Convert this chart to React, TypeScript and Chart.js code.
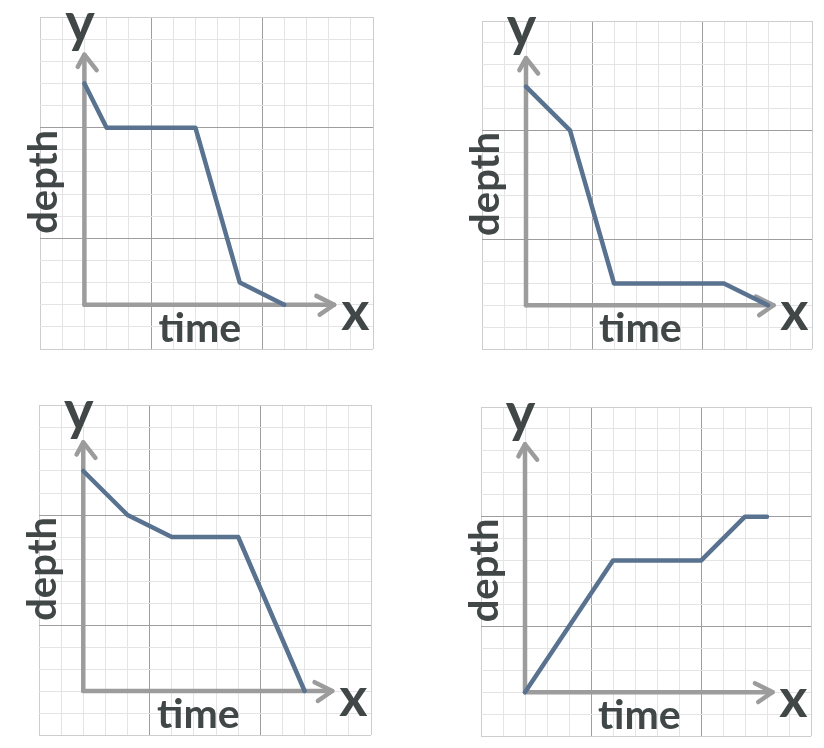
import React, { useEffect, useRef } from "react";
import { Chart, registerables } from "chart.js";

Chart.register(...registerables);

// ---- data (grid-cell units: time along x, depth along y) ----
const panelATime = [0, 1, 5, 7, 9];
const panelADepth = [10, 8, 8, 1, 0];

const panelBTime = [0, 2, 4, 9, 11];
const panelBDepth = [10, 8, 1, 1, 0];

const panelCTime = [0, 2, 4, 7, 10];
const panelCDepth = [10, 8, 7, 7, 0];

const panelDTime = [0, 4, 8, 10, 11];
const panelDDepth = [0, 6, 6, 8, 8];

// grid range and major lines
const gridMin = -2;
const gridMax = 13;
const majorLines = [3, 8];

// hand-drawn axis arrows (data units)
const xShaftX = [0, 11.25];
const xShaftY = [0, 0];
const xHeadX = [10.45, 11.25, 10.6];
const xHeadY = [0.4, 0, -0.45];
const yShaftX = [0, 0];
const yShaftY = [0, 11.3];
const yHeadX = [-0.3, 0, 0.55];
const yHeadY = [10.75, 11.3, 10.6];

// labels
const xLetter = "x";
const yLetter = "y";
const xTitle = "time";
const yTitle = "depth";

const toPoints = (xs: number[], ys: number[]) => xs.map((x, i) => ({ x, y: ys[i] }));

type Frame = { left: number; top: number; pad: { left: number; top: number; right: number; bottom: number } };

const W = 412;
const H = 374;

const frames: Frame[] = [
  { left: 0, top: 0, pad: { left: 40, top: 17, right: 39, bottom: 25 } },
  { left: 412, top: 0, pad: { left: 70, top: 21, right: 12, bottom: 25 } },
  { left: 0, top: 374, pad: { left: 39, top: 31, right: 41, bottom: 13 } },
  { left: 412, top: 374, pad: { left: 69, top: 33, right: 13, bottom: 12 } },
];

const series = [
  { t: panelATime, d: panelADepth },
  { t: panelBTime, d: panelBDepth },
  { t: panelCTime, d: panelCDepth },
  { t: panelDTime, d: panelDDepth },
];

const LINE_BLUE = "#58728f";
const ARROW_GRAY = "#9c9c9c";
const INK = "#414747";

const labelPlugin = {
  id: "handLabels",
  afterDatasetsDraw(chart: any) {
    const { ctx, scales } = chart;
    const xs = scales.x;
    const ys = scales.y;
    ctx.save();
    ctx.fillStyle = INK;
    ctx.textBaseline = "alphabetic";
    ctx.textAlign = "center";

    ctx.font = "700 41px Lato";
    ctx.fillText(xTitle, xs.getPixelForValue(5.2), ys.getPixelForValue(-1.7));

    ctx.save();
    ctx.translate(xs.getPixelForValue(-1.22), ys.getPixelForValue(5.55));
    ctx.rotate(-Math.PI / 2);
    ctx.font = "700 40px Lato";
    ctx.fillText(yTitle, 0, 0);
    ctx.restore();

    ctx.font = "700 54px Lato";
    ctx.fillText(xLetter, xs.getPixelForValue(12.2), ys.getPixelForValue(-1.14));
    ctx.font = "700 56px Lato";
    ctx.fillText(yLetter, xs.getPixelForValue(-0.2), ys.getPixelForValue(11.85));
    ctx.restore();
  },
};

function gridColor(ctx: any) {
  const v = ctx.tick ? ctx.tick.value : 0;
  if (majorLines.includes(v)) return "#9e9e9e";
  if (v === gridMin || v === gridMax) return "#cdcdcd";
  return "#e4e4e4";
}

function Panel({ idx }: { idx: number }) {
  const ref = useRef<HTMLCanvasElement | null>(null);
  useEffect(() => {
    if (!ref.current) return;
    const s = series[idx];
    const f = frames[idx];
    const arrowStyle = {
      borderColor: ARROW_GRAY,
      borderWidth: 4.5,
      pointRadius: 0,
      borderCapStyle: "round",
      borderJoinStyle: "round",
      fill: false,
      tension: 0,
      clip: false,
      order: 2,
    };
    const chart = new Chart(ref.current, {
      type: "line",
      data: {
        datasets: [
          {
            data: toPoints(s.t, s.d),
            borderColor: LINE_BLUE,
            borderWidth: 4.5,
            pointRadius: 0,
            borderCapStyle: "round",
            borderJoinStyle: "round",
            fill: false,
            tension: 0,
            clip: false,
            order: 0,
          } as any,
          { data: toPoints(xShaftX, xShaftY), ...arrowStyle } as any,
          { data: toPoints(xHeadX, xHeadY), ...arrowStyle } as any,
          { data: toPoints(yShaftX, yShaftY), ...arrowStyle } as any,
          { data: toPoints(yHeadX, yHeadY), ...arrowStyle } as any,
        ],
      },
      options: {
        animation: false,
        responsive: false,
        events: [],
        layout: { padding: f.pad },
        plugins: { legend: { display: false }, tooltip: { enabled: false }, title: { display: false } },
        scales: {
          x: {
            type: "linear",
            min: gridMin,
            max: gridMax,
            ticks: { display: false, stepSize: 1, autoSkip: false },
            grid: { drawTicks: false, color: gridColor, lineWidth: 1 },
            border: { display: false },
          },
          y: {
            type: "linear",
            min: gridMin,
            max: gridMax,
            ticks: { display: false, stepSize: 1, autoSkip: false },
            grid: { drawTicks: false, color: gridColor, lineWidth: 1 },
            border: { display: false },
          },
        },
      } as any,
      plugins: [labelPlugin],
    });
    return () => chart.destroy();
  }, [idx]);
  const f = frames[idx];
  return (
    <canvas
      ref={ref}
      width={W}
      height={H}
      style={{ position: "absolute", left: f.left, top: f.top, width: W, height: H }}
    />
  );
}

export default function App() {
  return (
    <div style={{ position: "absolute", left: 0, top: 0, width: 824, height: 748, background: "#ffffff" }}>
      {frames.map((_, i) => (
        <Panel key={i} idx={i} />
      ))}
    </div>
  );
}
